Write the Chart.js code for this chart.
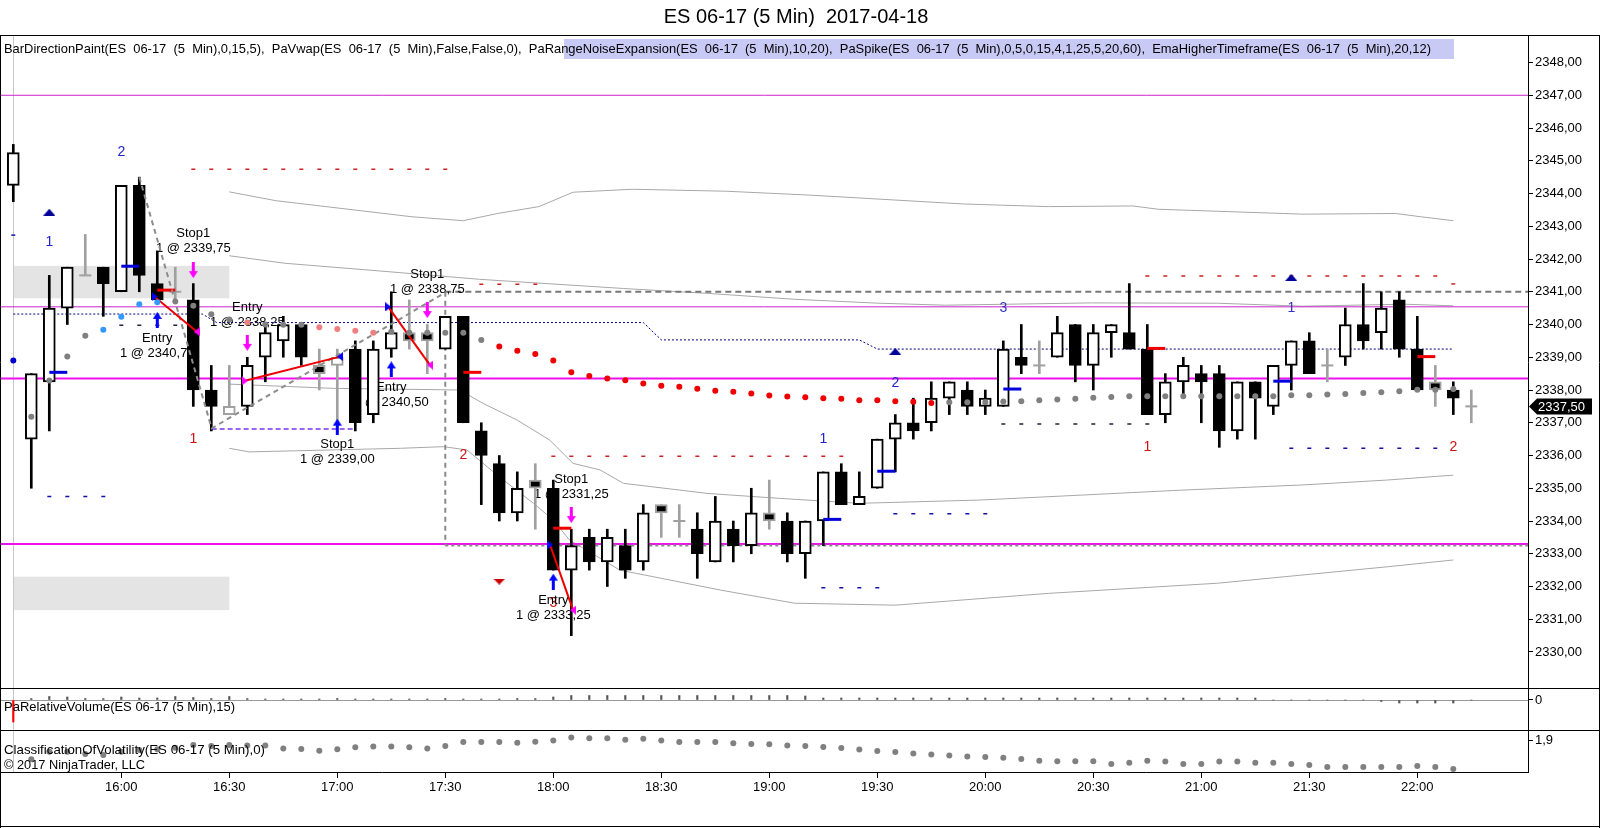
<!DOCTYPE html>
<html>
<head>
<meta charset="utf-8">
<title>ES 06-17 (5 Min) 2017-04-18</title>
<script src="https://cdn.jsdelivr.net/npm/chart.js@4.4.1/dist/chart.umd.min.js"></script>
<style>
  html, body { margin: 0; padding: 0; background: #fff; }
  #wrap { position: relative; width: 1600px; height: 828px; overflow: hidden; background: #fff; }
  #wrap canvas { position: absolute; left: 0; }
</style>
</head>
<body>
<div id="wrap">
  <canvas id="priceChart" width="1600" height="689" style="top:0"></canvas>
  <canvas id="volumeChart" width="1600" height="42" style="top:689px"></canvas>
  <canvas id="volaChart" width="1600" height="97" style="top:731px"></canvas>
</div>
<script>
const FONT = '"Liberation Sans", Arial, sans-serif';
Chart.defaults.font.family = FONT;

// texts
const chartTitle = 'ES 06-17 (5 Min)  2017-04-18';
const legendLine = 'BarDirectionPaint(ES  06-17  (5  Min),0,15,5),  PaVwap(ES  06-17  (5  Min),False,False,0),  PaRangeNoiseExpansion(ES  06-17  (5  Min),10,20),  PaSpike(ES  06-17  (5  Min),0,5,0,15,4,1,25,5,20,60),  EmaHigherTimeframe(ES  06-17  (5  Min),20,12)';
const volumeLabel = 'PaRelativeVolume(ES 06-17 (5 Min),15)';
const volaLabel = 'ClassificationOfVolatility(ES 06-17 (5 Min),0)';
const copyrightLabel = '\u00a9 2017 NinjaTrader, LLC';

// axes
const timeTickBars = [6, 12, 18, 24, 30, 36, 42, 48, 54, 60, 66, 72, 78];
const timeTickLabels = ['16:00', '16:30', '17:00', '17:30', '18:00', '18:30', '19:00', '19:30', '20:00', '20:30', '21:00', '21:30', '22:00'];
const priceTicks = [2330, 2331, 2332, 2333, 2334, 2335, 2336, 2337, 2338, 2339, 2340, 2341, 2342, 2343, 2344, 2345, 2346, 2347, 2348];
const volumeTicks = [0];
const volaTicks = [1.9];

// 5 min bars, 15:30 .. 22:15
const opens = [2344.25, 2336.5, 2338.25, 2340.5, 2341.5, 2341.75, 2341.0, 2344.25, 2341.25, 2341.0,
  2340.75, 2338.0, 2337.25, 2337.5, 2339.0, 2339.5, 2340.0, 2338.75, 2338.75, 2339.25,
  2337.25, 2339.25, 2339.75, 2339.75, 2339.25, 2340.25, 2336.75, 2335.75, 2334.25, 2335.25,
  2335.0, 2332.5, 2333.5, 2332.75, 2333.25, 2332.75, 2334.5, 2334.0, 2333.75, 2332.75,
  2333.75, 2333.25, 2334.25, 2334.0, 2333.0, 2334.0, 2335.5, 2334.5, 2335.0, 2336.5,
  2337.0, 2337.0, 2337.75, 2338.0, 2337.5, 2337.5, 2339.0, 2338.75, 2339.0, 2340.0,
  2338.75, 2339.75, 2339.75, 2339.25, 2337.25, 2338.25, 2338.5, 2338.5, 2336.75, 2338.25,
  2337.5, 2338.75, 2339.5, 2338.75, 2339.0, 2340.0, 2339.75, 2340.75, 2339.25, 2338.25,
  2338.0, 2337.5];
const highs = [2345.5, 2338.5, 2341.5, 2341.75, 2342.75, 2341.75, 2344.25, 2344.5, 2342.25, 2341.75,
  2341.25, 2338.75, 2338.75, 2339.0, 2340.0, 2340.25, 2340.0, 2339.25, 2339.25, 2339.5,
  2339.5, 2341.0, 2340.75, 2340.0, 2340.25, 2340.25, 2337.0, 2336.0, 2335.5, 2335.75,
  2335.25, 2333.75, 2333.75, 2333.75, 2333.75, 2334.5, 2334.5, 2334.5, 2334.25, 2334.75,
  2334.0, 2335.0, 2335.25, 2334.25, 2334.0, 2335.5, 2335.75, 2335.5, 2336.5, 2337.25,
  2337.75, 2338.25, 2338.25, 2338.25, 2338.0, 2339.5, 2340.0, 2339.5, 2340.25, 2340.0,
  2340.0, 2340.0, 2341.25, 2340.0, 2338.5, 2339.0, 2338.75, 2338.75, 2338.25, 2338.25,
  2338.75, 2339.5, 2339.75, 2339.25, 2340.5, 2341.25, 2341.0, 2341.0, 2340.25, 2338.75,
  2338.25, 2338.0];
const lows = [2343.75, 2335.0, 2336.75, 2340.0, 2341.5, 2340.25, 2341.0, 2341.0, 2340.75, 2340.75,
  2337.5, 2336.75, 2337.25, 2337.25, 2338.25, 2339.0, 2338.75, 2338.0, 2337.0, 2336.75,
  2337.0, 2339.0, 2339.25, 2338.5, 2339.25, 2337.0, 2334.5, 2334.0, 2334.0, 2333.75,
  2332.5, 2330.5, 2332.5, 2332.0, 2332.25, 2332.5, 2333.5, 2333.5, 2332.25, 2332.75,
  2332.75, 2333.0, 2333.75, 2332.75, 2332.25, 2333.25, 2334.5, 2334.5, 2335.0, 2335.5,
  2336.5, 2336.75, 2337.25, 2337.25, 2337.25, 2337.5, 2338.5, 2338.5, 2339.0, 2338.25,
  2338.0, 2339.0, 2339.25, 2337.25, 2337.0, 2337.75, 2337.0, 2336.25, 2336.5, 2336.5,
  2337.25, 2338.0, 2338.5, 2338.25, 2338.75, 2339.25, 2339.25, 2339.0, 2338.0, 2337.5,
  2337.25, 2337.0];
const closes = [2345.25, 2338.5, 2340.5, 2341.75, 2341.5, 2341.25, 2344.25, 2341.5, 2340.75, 2341.0,
  2338.0, 2337.5, 2337.5, 2338.75, 2339.75, 2340.0, 2339.0, 2338.5, 2339.0, 2337.0,
  2339.25, 2339.75, 2339.5, 2339.5, 2340.25, 2337.0, 2336.0, 2334.25, 2335.0, 2335.0,
  2332.5, 2333.25, 2332.75, 2333.5, 2332.5, 2334.25, 2334.25, 2334.0, 2333.0, 2334.0,
  2333.25, 2334.25, 2334.0, 2333.0, 2334.0, 2335.5, 2334.5, 2334.75, 2336.5, 2337.0,
  2336.75, 2337.75, 2338.25, 2337.5, 2337.75, 2339.25, 2338.75, 2338.75, 2339.75, 2338.75,
  2339.75, 2340.0, 2339.25, 2337.25, 2338.25, 2338.75, 2338.25, 2336.75, 2338.25, 2337.75,
  2338.75, 2339.5, 2338.5, 2338.75, 2340.0, 2339.5, 2340.5, 2339.25, 2338.0, 2338.0,
  2337.75, 2337.5];
const grayBars = [4, 9, 12, 17, 18, 22, 23, 29, 36, 37, 42, 57, 73, 79, 81];

// EMA higher timeframe dots
const emaValues = [2338.90, 2337.18, 2338.29, 2339.02, 2339.66, 2339.84, 2340.24, 2340.62, 2340.68, 2340.70,
  2340.57, 2340.31, 2340.15, 2340.06, 2340.00, 2339.99, 2339.99, 2339.92, 2339.86, 2339.81,
  2339.75, 2339.78, 2339.75, 2339.75, 2339.75, 2339.75, 2339.53, 2339.33, 2339.20, 2339.10,
  2338.90, 2338.54, 2338.43, 2338.35, 2338.30, 2338.20, 2338.13, 2338.10, 2338.04, 2337.98,
  2337.95, 2337.89, 2337.83, 2337.80, 2337.78, 2337.75, 2337.73, 2337.69, 2337.69, 2337.66,
  2337.64, 2337.60, 2337.63, 2337.63, 2337.63, 2337.65, 2337.66, 2337.69, 2337.71, 2337.73,
  2337.76, 2337.79, 2337.81, 2337.81, 2337.81, 2337.81, 2337.81, 2337.81, 2337.81, 2337.81,
  2337.81, 2337.84, 2337.84, 2337.86, 2337.88, 2337.91, 2337.93, 2337.96, 2338.01, 2338.01,
  2338.03, null];
const emaColorCodes = 'n' + 'gggg' + 'bbbb' + 'gggg' + 's' + 'ggg' + 'ssss' + 'gggggg' +
  'rrrrrrrrrrrrrrrrrrrrrrrrr' + 'gggggggggggggggggggggggggggggg';

// indicator lines  [bar, price]
const vwapPoints = [[0, 2340.32], [10.5, 2340.32], [11.3, 2340.06], [35, 2340.06], [36, 2339.53], [47, 2339.53], [48, 2339.25], [80, 2339.25]];
const bandUpperOuter = [[12, 2344.05], [14.6, 2343.78], [22.15, 2343.29], [25, 2343.17], [26.9, 2343.39], [29.2, 2343.6], [31.1, 2344.04], [34.4, 2344.13], [39.6, 2344.07], [44.3, 2343.95], [52.8, 2343.68], [57.5, 2343.6], [62.2, 2343.62], [63.6, 2343.52], [71.6, 2343.37], [76.8, 2343.39], [78.2, 2343.29], [80, 2343.17]];
const bandUpperInner = [[12, 2342.10], [15.1, 2341.87], [19.8, 2341.66], [23.1, 2341.51], [25.9, 2341.38], [33.9, 2341.1], [38.6, 2340.95], [43.4, 2340.77], [48.1, 2340.65], [51.8, 2340.59], [59.9, 2340.66], [66.9, 2340.65], [71.6, 2340.56], [77.3, 2340.62], [80, 2340.57]];
const bandLowerInner = [[12, 2338.18], [17.8, 2338.05], [24.8, 2338.0], [26.1, 2337.59], [28, 2337.08], [29.8, 2336.47], [31.1, 2335.76], [32.6, 2335.56], [33.9, 2335.15], [38.6, 2334.84], [42.6, 2334.69], [47, 2334.54], [53.7, 2334.64], [59.3, 2334.79], [64.8, 2334.94], [71.6, 2335.1], [76.3, 2335.25], [80, 2335.4]];
const bandLowerOuter = [[12, 2336.22], [13.1, 2336.11], [21.5, 2336.22], [23.9, 2336.27], [25.2, 2336.17], [27, 2335.35], [28.9, 2334.54], [30, 2334.03], [30.9, 2333.42], [33.7, 2332.5], [39.3, 2331.89], [43.4, 2331.49], [49, 2331.43], [57.5, 2331.79], [66.9, 2332.1], [76.3, 2332.6], [80, 2332.81]];

const pivotLevels = [
  { price: 2347.0, width: 1, color: '#cc22cc' },
  { price: 2340.54, width: 1, color: '#cc22cc' },
  { price: 2338.35, width: 2, color: '#ee11ee' },
  { price: 2333.3, width: 2, color: '#ee11ee' }
];
const rangeBox = { bar: 24, top: 2341.0, bottom: 2333.25 };
const zigzag = [[7, 2344.5], [11.02, 2336.83], [24.08, 2341.0]];
const purpleLine = [[11.02, 2336.81], [19, 2336.81]];
const zones = [
  { from: 0, to: 12, hi: 2341.79, lo: 2340.8 },
  { from: 0, to: 12, hi: 2332.3, lo: 2331.28 }
];
const dashRuns = [
  { from: 10, to: 24, price: 2344.74, color: '#cc2222' },
  { from: 26, to: 29, price: 2341.23, color: '#cc2222' },
  { from: 30, to: 46, price: 2335.98, color: '#cc2222' },
  { from: 63, to: 79, price: 2341.48, color: '#cc2222' },
  { from: 80, to: 80, price: 2341.24, color: '#cc2222' },
  { from: 0, to: 0, price: 2342.73, color: '#1111aa' },
  { from: 2, to: 5, price: 2334.75, color: '#1111aa' },
  { from: 45, to: 48, price: 2331.96, color: '#1111aa' },
  { from: 49, to: 54, price: 2334.22, color: '#1111aa' },
  { from: 71, to: 79, price: 2336.22, color: '#1111aa' },
  { from: 6, to: 9, price: 2339.98, color: '#222244' },
  { from: 55, to: 63, price: 2336.96, color: '#222244' }
];
const spikeTicks = [
  { bar: 2, price: 2338.54, color: '#0000dd' },
  { bar: 6, price: 2341.78, color: '#0000dd' },
  { bar: 45, price: 2334.05, color: '#0000dd' },
  { bar: 48, price: 2335.52, color: '#0000dd' },
  { bar: 55, price: 2338.03, color: '#0000dd' },
  { bar: 70, price: 2338.27, color: '#0000dd' },
  { bar: 8, price: 2341.05, color: '#ee0000' },
  { bar: 25, price: 2338.54, color: '#ee0000' },
  { bar: 30, price: 2333.78, color: '#ee0000' },
  { bar: 63, price: 2339.27, color: '#ee0000' },
  { bar: 78, price: 2339.02, color: '#ee0000' }
];
const upTriangles = [[2, 2343.43], [49, 2339.18], [71, 2341.44]];
const downTriangles = [[27, 2332.15]];
const upArrows = [[8, 2340.14], [18, 2336.88], [21, 2338.63], [30, 2332.15]];
const downArrows = [[10, 2341.66], [13, 2339.44], [23, 2340.44], [31, 2334.18]];
const trades = [
  { from: [7.85, 2340.85], to: [10.2, 2339.78], entry: 'b' },
  { from: [12.87, 2338.28], to: [18.15, 2339.02], entry: 'm' },
  { from: [20.83, 2340.54], to: [23.15, 2338.76], entry: 'b' },
  { from: [29.82, 2333.27], to: [31.1, 2331.28], entry: 'b' }
];
const countLabels = [
  { text: '2', bar: 6, price: 2345.26, color: '#2222cc' },
  { text: '1', bar: 2, price: 2342.53, color: '#2222cc' },
  { text: '1', bar: 10, price: 2336.49, color: '#cc1111' },
  { text: '2', bar: 25, price: 2336.01, color: '#cc1111' },
  { text: '3', bar: 30, price: 2331.49, color: '#cc1111' },
  { text: '1', bar: 45, price: 2336.49, color: '#2222cc' },
  { text: '2', bar: 49, price: 2338.2, color: '#2222cc' },
  { text: '3', bar: 55, price: 2340.49, color: '#3333bb' },
  { text: '1', bar: 63, price: 2336.25, color: '#cc1111' },
  { text: '1', bar: 71, price: 2340.49, color: '#3333bb' },
  { text: '2', bar: 80, price: 2336.25, color: '#cc1111' }
];
const tradeLabels = [
  { lines: ['Stop1', '1 @ 2339,75'], bar: 10, price: 2342.78 },
  { lines: ['Entry', '1 @ 2340,75'], bar: 8, price: 2339.56 },
  { lines: ['Entry', '1 @ 2338,25'], bar: 13, price: 2340.51 },
  { lines: ['Stop1', '1 @ 2338,75'], bar: 23, price: 2341.53 },
  { lines: ['Entry', '1 @ 2340,50'], bar: 21, price: 2338.08 },
  { lines: ['Stop1', '1 @ 2339,00'], bar: 18, price: 2336.34 },
  { lines: ['Stop1', '1 @ 2331,25'], bar: 31, price: 2335.28 },
  { lines: ['Entry', '1 @ 2333,25'], bar: 30, price: 2331.59 }
];

// lower panels
const volumeValues = [-22, 1.5, 3.5, 3, 1.5, 1.5, 3, 2, 2, 3.5,
  2.5, 1.5, 3.5, 1.5, 1, 1, 1, 1, 1.5, 1,
  1, 1, 1, 1, 1.5, 1, 1, 1, 1.5, 1.5,
  3, 4.5, 4.5, 4.5, 4.5, 4.5, 4.5, 4.5, 4.5, 4.5,
  4.5, 4.5, 4.5, 4.5, 4, 2, 2, 2, 2, 2,
  2, 2, 2, 2, 2, 2, 2, 2, 2, 2,
  2, 2, 2, 2, 2, 2, 2, 2, 2, 2,
  0, 0, 0, 0, 0, 0, -1.5, -3, -3, -3,
  -3, 0];
const volaValues = [null, 1.836, 1.861, 1.861, 1.853, 1.850, 1.861, 1.867, 1.869, 1.874,
  1.883, 1.880, 1.883, 1.882, 1.882, 1.872, 1.870, 1.864, 1.869, 1.876,
  1.878, 1.878, 1.876, 1.872, 1.880, 1.893, 1.893, 1.893, 1.891, 1.894,
  1.898, 1.908, 1.906, 1.906, 1.901, 1.904, 1.898, 1.893, 1.893, 1.893,
  1.889, 1.887, 1.886, 1.882, 1.880, 1.877, 1.873, 1.868, 1.863, 1.860,
  1.855, 1.852, 1.848, 1.845, 1.843, 1.841, 1.837, 1.831, 1.829, 1.829,
  1.829, 1.820, 1.824, 1.831, 1.828, 1.820, 1.820, 1.828, 1.828, 1.824,
  1.824, 1.820, 1.817, 1.810, 1.810, 1.810, 1.810, 1.810, 1.813, 1.810,
  1.803, null];

// ---------- layout constants ----------
const X_MIN = -0.683, X_MAX = 84.15;
const AXIS_W = 72;
const GRAY = '#a0a0a0';
const emaPalette = { n: '#0000cc', g: '#808080', b: '#3399ff', s: '#f08080', r: '#ee0000' };

const comma = (v, d) => v.toFixed(d).replace('.', ',');
const pts = arr => arr.map(p => ({ x: p[0], y: p[1] }));

function makeArrow(color, up) {
  const c = document.createElement('canvas');
  c.width = 9; c.height = 16;
  const g = c.getContext('2d');
  g.fillStyle = color;
  g.beginPath();
  if (up) {
    g.moveTo(4.5, 0); g.lineTo(9, 7); g.lineTo(6, 7); g.lineTo(6, 16); g.lineTo(3, 16); g.lineTo(3, 7); g.lineTo(0, 7);
  } else {
    g.moveTo(4.5, 16); g.lineTo(9, 9); g.lineTo(6, 9); g.lineTo(6, 0); g.lineTo(3, 0); g.lineTo(3, 9); g.lineTo(0, 9);
  }
  g.closePath(); g.fill();
  return c;
}
function makeTriangle(color, dir, w, h) {
  const c = document.createElement('canvas');
  c.width = w; c.height = h;
  const g = c.getContext('2d');
  g.fillStyle = color;
  g.beginPath();
  if (dir === 'up') { g.moveTo(w / 2, 0); g.lineTo(w, h); g.lineTo(0, h); }
  else if (dir === 'down') { g.moveTo(0, 0); g.lineTo(w, 0); g.lineTo(w / 2, h); }
  else if (dir === 'right') { g.moveTo(0, 0); g.lineTo(w, h / 2); g.lineTo(0, h); }
  else { g.moveTo(w, 0); g.lineTo(0, h / 2); g.lineTo(w, h); }
  g.closePath(); g.fill();
  return c;
}
function fitText(ctx, text, x, y, width) {
  const w = ctx.measureText(text).width;
  ctx.save();
  ctx.translate(x, y);
  ctx.scale(width / w, 1);
  ctx.fillText(text, 0, 0);
  ctx.restore();
}
function hline(ctx, x0, x1, y) { ctx.beginPath(); ctx.moveTo(x0, y); ctx.lineTo(x1, y); ctx.stroke(); }
function vline(ctx, x, y0, y1) { ctx.beginPath(); ctx.moveTo(x, y0); ctx.lineTo(x, y1); ctx.stroke(); }

function yAxis(min, max, ticks, decimals) {
  return {
    position: 'right', min, max,
    afterBuildTicks: s => { s.ticks = ticks.map(v => ({ value: v })); },
    afterFit: s => { s.width = AXIS_W; s.paddingTop = 0; s.paddingBottom = 0; },
    ticks: { callback: v => comma(v, decimals), color: '#000', font: { family: FONT, size: 13 }, padding: 2 },
    grid: { drawOnChartArea: false, tickLength: 5, tickColor: '#000' },
    border: { display: false }
  };
}
function baseOptions(padTop) {
  return {
    responsive: false, animation: false, devicePixelRatio: 1,
    layout: { autoPadding: false, padding: { top: padTop, left: 1, right: 0, bottom: 0 } },
    plugins: { legend: { display: false }, tooltip: { enabled: false }, title: { display: false } }
  };
}

// ---------- price panel ----------
const isGray = i => grayBars.includes(i);
const wickData = opens.map((o, i) => ({ x: i, y: [lows[i], highs[i]] }));
const bodyData = opens.map((o, i) => ({ x: i, y: o === closes[i] ? null : [o, closes[i]] }));
const dojiData = opens.map((o, i) => (o === closes[i] ? { x: i, y: o } : null)).filter(Boolean);

const priceSets = [];
priceSets.push({
  type: 'line', showLine: false, order: 0,
  data: emaValues.map((v, i) => ({ x: i, y: v })),
  pointRadius: 3, pointBorderWidth: 0,
  pointBackgroundColor: emaValues.map((v, i) => emaPalette[emaColorCodes[i]])
});
const arrowUp = makeArrow('#0000ff', true), arrowDown = makeArrow('#ff00ff', false);
priceSets.push({ type: 'line', showLine: false, order: 0, data: pts(upArrows), pointStyle: arrowUp, pointRadius: 5 });
priceSets.push({ type: 'line', showLine: false, order: 0, data: pts(downArrows), pointStyle: arrowDown, pointRadius: 5 });
priceSets.push({ type: 'line', showLine: false, order: 0, data: pts(upTriangles), pointStyle: makeTriangle('#000099', 'up', 12, 7), pointRadius: 5 });
priceSets.push({ type: 'line', showLine: false, order: 0, data: pts(downTriangles), pointStyle: makeTriangle('#cc0000', 'down', 12, 6), pointRadius: 5 });
trades.forEach(t => {
  const a = t.entry === 'b' ? '#0000ff' : '#ff00ff';
  const b = t.entry === 'b' ? '#ff00ff' : '#0000ff';
  priceSets.push({
    type: 'line', order: 0, data: pts([t.from, t.to]),
    borderColor: '#ee0000', borderWidth: 2,
    pointStyle: [makeTriangle(a, 'right', 6, 9), makeTriangle(b, 'left', 6, 9)], pointRadius: 4
  });
});
priceSets.push({ type: 'line', order: 0, data: pts(zigzag), borderColor: '#8c8c8c', borderWidth: 2, borderDash: [5, 4], pointRadius: 0 });
spikeTicks.forEach(s => priceSets.push({
  type: 'line', order: 0, data: [{ x: s.bar, y: s.price }, { x: s.bar + 1, y: s.price }],
  borderColor: s.color, borderWidth: 3, pointRadius: 0
}));
priceSets.push({
  type: 'line', showLine: false, order: 0, data: dojiData,
  pointStyle: 'line', pointRadius: 6, pointBorderColor: GRAY, pointBorderWidth: 2
});
priceSets.push({
  id: 'bodies', type: 'bar', order: 1, grouped: false, barThickness: 12, borderWidth: 2, borderSkipped: false,
  data: bodyData,
  backgroundColor: opens.map((o, i) => (closes[i] > o ? '#ffffff' : '#000000')),
  borderColor: opens.map((o, i) => (isGray(i) ? GRAY : '#000000'))
});
priceSets.push({
  id: 'wicks', type: 'bar', order: 2, grouped: false, barThickness: 2, borderWidth: 0,
  data: wickData,
  backgroundColor: opens.map((o, i) => (isGray(i) ? GRAY : '#000000'))
});
dashRuns.forEach(r => priceSets.push({
  type: 'line', order: 3, data: [{ x: r.from - 0.11, y: r.price }, { x: r.to + 0.11, y: r.price }],
  borderColor: r.color, borderWidth: 1.5, borderDash: [4, 14], pointRadius: 0
}));
priceSets.push({ type: 'line', order: 3, data: pts(vwapPoints), borderColor: '#000080', borderWidth: 1, borderDash: [2, 2], pointRadius: 0 });
priceSets.push({ type: 'line', order: 3, data: pts(purpleLine), borderColor: '#9966ee', borderWidth: 2, borderDash: [5, 3], pointRadius: 0 });
priceSets.push({
  type: 'line', order: 4, data: [{ x: rangeBox.bar, y: rangeBox.top }, { x: X_MAX, y: rangeBox.top }],
  borderColor: '#777777', borderWidth: 2, borderDash: [6, 4], pointRadius: 0
});
priceSets.push({
  type: 'line', order: 4, data: [{ x: rangeBox.bar, y: rangeBox.bottom }, { x: X_MAX, y: rangeBox.bottom }],
  borderColor: '#8a8a8a', borderWidth: 2, borderDash: [3, 3], pointRadius: 0
});
priceSets.push({
  type: 'line', order: 4, data: [{ x: rangeBox.bar, y: rangeBox.top }, { x: rangeBox.bar, y: rangeBox.bottom }],
  borderColor: '#8a8a8a', borderWidth: 2, borderDash: [5, 4], pointRadius: 0
});
pivotLevels.forEach(l => priceSets.push({
  type: 'line', order: 5, data: [{ x: X_MIN, y: l.price }, { x: X_MAX, y: l.price }],
  borderColor: l.color, borderWidth: l.width, pointRadius: 0
}));
[bandUpperOuter, bandUpperInner, bandLowerInner, bandLowerOuter].forEach(b => priceSets.push({
  type: 'line', order: 6, data: pts(b), borderColor: '#a8a8a8', borderWidth: 1, pointRadius: 0
}));

function sessionLine(chart) {
  const { ctx, chartArea: a, scales: { x } } = chart;
  ctx.save();
  ctx.strokeStyle = '#c8c8c8'; ctx.lineWidth = 1;
  vline(ctx, Math.round(x.getPixelForValue(0)) + 0.5, a.top, a.bottom);
  ctx.restore();
}
function outerFrame(chart, bottomLine) {
  const { ctx, chartArea: a, height } = chart;
  ctx.save();
  ctx.strokeStyle = '#000'; ctx.lineWidth = 1;
  vline(ctx, 0.5, a.top, height);
  vline(ctx, 1599.5, a.top, height);
  vline(ctx, a.right + 0.5, a.top, a.bottom);
  if (bottomLine) hline(ctx, 0, 1600, a.bottom - 0.5);
  ctx.restore();
}

const pricePlugin = {
  id: 'pricePlugin',
  beforeDatasetsDraw(chart) {
    const { ctx, scales: { x, y } } = chart;
    ctx.save();
    ctx.fillStyle = '#e4e4e4';
    zones.forEach(z => {
      const x0 = x.getPixelForValue(z.from), x1 = x.getPixelForValue(z.to);
      const y0 = y.getPixelForValue(z.hi), y1 = y.getPixelForValue(z.lo);
      ctx.fillRect(x0, y0, x1 - x0, y1 - y0);
    });
    ctx.restore();
    sessionLine(chart);
  },
  beforeDatasetDraw(chart, args) {
    if (chart.data.datasets[args.index].id !== 'wicks') return;
    const { ctx, scales: { x, y } } = chart;
    ctx.save();
    ctx.textAlign = 'center'; ctx.textBaseline = 'middle';
    ctx.font = '14px ' + FONT;
    countLabels.forEach(c => {
      ctx.fillStyle = c.color;
      ctx.fillText(c.text, x.getPixelForValue(c.bar), y.getPixelForValue(c.price));
    });
    ctx.font = '13px ' + FONT;
    ctx.fillStyle = '#000';
    tradeLabels.forEach(t => {
      const px = x.getPixelForValue(t.bar), py = y.getPixelForValue(t.price);
      t.lines.forEach((s, k) => ctx.fillText(s, px, py + k * 15));
    });
    ctx.restore();
  },
  afterDraw(chart) {
    const { ctx, chartArea: a, scales: { y } } = chart;
    ctx.save();
    // title
    ctx.fillStyle = '#000';
    ctx.font = '20px ' + FONT;
    ctx.textAlign = 'center'; ctx.textBaseline = 'middle';
    ctx.fillText(chartTitle, 796, 17);
    // indicator legend
    ctx.fillStyle = '#c9c9f5';
    ctx.fillRect(564, 39, 890, 20);
    ctx.fillStyle = '#000';
    ctx.font = '13px ' + FONT;
    ctx.textAlign = 'left';
    fitText(ctx, legendLine, 4, 49, 1427);
    // last price marker
    const last = closes[closes.length - 1];
    const ly = y.getPixelForValue(last);
    ctx.beginPath();
    ctx.moveTo(a.right + 1, ly); ctx.lineTo(a.right + 9, ly - 8); ctx.lineTo(1592, ly - 8);
    ctx.lineTo(1592, ly + 8); ctx.lineTo(a.right + 9, ly + 8); ctx.closePath();
    ctx.fill();
    ctx.fillStyle = '#fff';
    ctx.fillText(comma(last, 2), a.right + 10, ly + 1);
    // frame
    ctx.strokeStyle = '#000'; ctx.lineWidth = 1;
    hline(ctx, 0, 1600, a.top - 0.5);
    ctx.restore();
    outerFrame(chart, true);
  }
};

new Chart(document.getElementById('priceChart'), {
  type: 'bar',
  data: { datasets: priceSets },
  options: Object.assign(baseOptions(36), {
    scales: {
      x: { type: 'linear', min: X_MIN, max: X_MAX, offset: false, display: false },
      y: yAxis(2328.87, 2348.81, priceTicks, 2)
    }
  }),
  plugins: [pricePlugin]
});

// ---------- relative volume panel ----------
new Chart(document.getElementById('volumeChart'), {
  type: 'bar',
  data: {
    datasets: [{
      data: volumeValues.map((v, i) => ({ x: i, y: v })),
      grouped: false, barThickness: 1.5, borderWidth: 0,
      backgroundColor: volumeValues.map((v, i) => (i === 0 ? '#ff0000' : '#555555'))
    }]
  },
  options: Object.assign(baseOptions(0), {
    scales: {
      x: { type: 'linear', min: X_MIN, max: X_MAX, offset: false, display: false },
      y: yAxis(-31, 11, volumeTicks, 0)
    }
  }),
  plugins: [{
    id: 'volPlugin',
    beforeDatasetsDraw(chart) {
      const { ctx, chartArea: a, scales: { y } } = chart;
      ctx.save();
      ctx.strokeStyle = '#999'; ctx.lineWidth = 1;
      hline(ctx, a.left, a.right, Math.round(y.getPixelForValue(0)) + 0.5);
      ctx.restore();
      sessionLine(chart);
    },
    afterDraw(chart) {
      const { ctx } = chart;
      ctx.save();
      ctx.fillStyle = '#000'; ctx.font = '13px ' + FONT;
      ctx.textAlign = 'left'; ctx.textBaseline = 'middle';
      fitText(ctx, volumeLabel, 4, 18, 231);
      ctx.restore();
      outerFrame(chart, true);
    }
  }]
});

// ---------- volatility panel + time axis ----------
new Chart(document.getElementById('volaChart'), {
  type: 'line',
  data: {
    datasets: [{
      data: volaValues.map((v, i) => ({ x: i, y: v })),
      showLine: false, pointRadius: 3, pointBorderWidth: 0, pointBackgroundColor: '#808080'
    }]
  },
  options: Object.assign(baseOptions(0), {
    scales: {
      x: {
        type: 'linear', min: X_MIN, max: X_MAX, offset: false, position: 'bottom',
        afterBuildTicks: s => { s.ticks = timeTickBars.map(v => ({ value: v })); },
        afterFit: s => { s.height = 55; s.paddingLeft = 0; s.paddingRight = 0; },
        ticks: { callback: (v, i) => timeTickLabels[i], color: '#000', font: { family: FONT, size: 13 }, padding: 2, autoSkip: false, maxRotation: 0 },
        grid: { drawOnChartArea: false, tickLength: 5, tickColor: '#000' },
        border: { display: false }
      },
      y: yAxis(1.79, 1.93, volaTicks, 1)
    }
  }),
  plugins: [{
    id: 'volaPlugin',
    beforeDatasetsDraw(chart) { sessionLine(chart); },
    afterDraw(chart) {
      const { ctx, chartArea: a, height } = chart;
      ctx.save();
      ctx.fillStyle = '#000'; ctx.font = '13px ' + FONT;
      ctx.textAlign = 'left'; ctx.textBaseline = 'middle';
      fitText(ctx, volaLabel, 4, 19, 261);
      fitText(ctx, copyrightLabel, 4, 34, 141);
      ctx.strokeStyle = '#000'; ctx.lineWidth = 1;
      hline(ctx, 0, a.right + 1, a.bottom - 0.5);
      hline(ctx, 0, 1600, height - 1.5);
      ctx.restore();
      outerFrame(chart, false);
    }
  }]
});
</script>
</body>
</html>
